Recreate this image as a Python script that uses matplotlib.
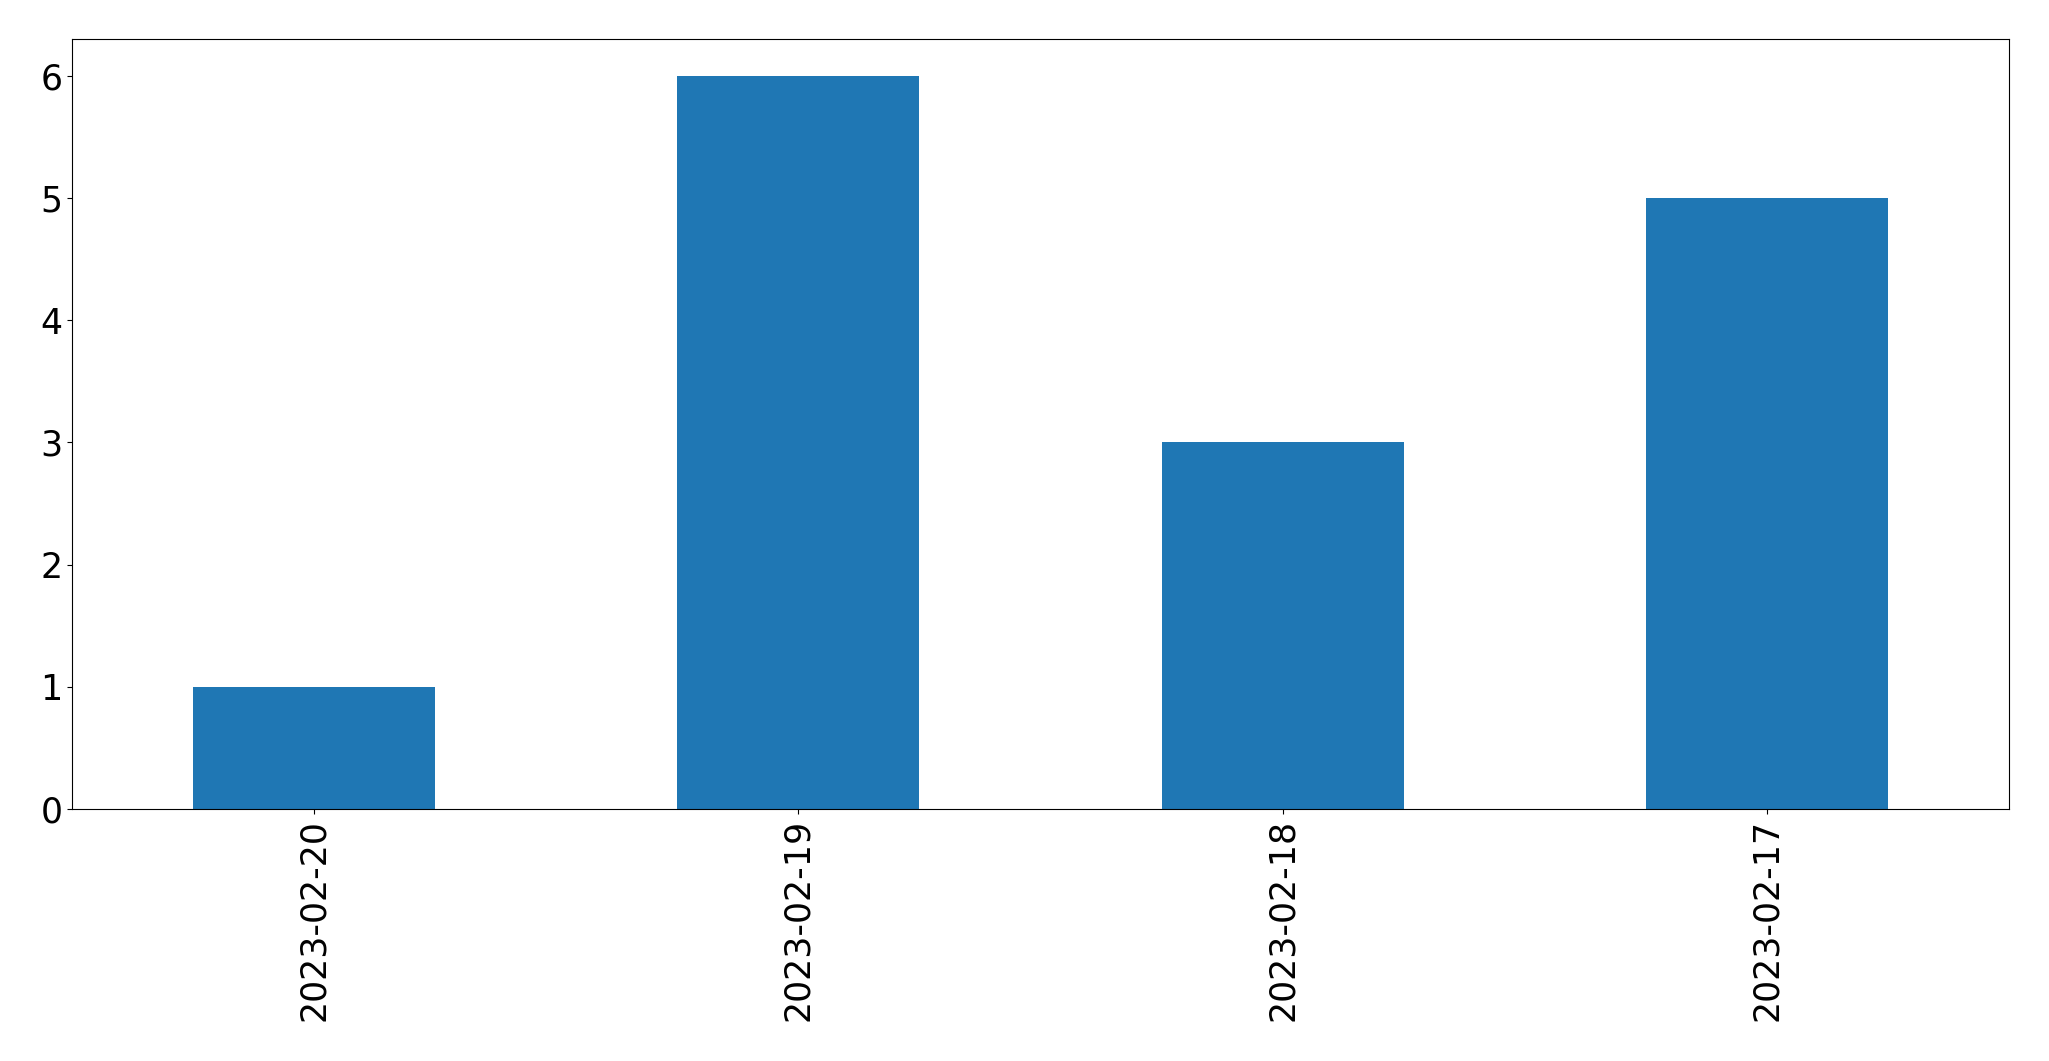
import matplotlib
matplotlib.use("Agg")
import matplotlib.pyplot as plt
import numpy as np

dates = ["2023-02-20", "2023-02-19", "2023-02-18", "2023-02-17"]
counts = [1, 6, 3, 5]

fig = plt.figure(figsize=(20.49, 10.61), dpi=100)
ax = fig.add_axes([72/2049, 1 - 809/1061, (2009 - 72)/2049, (809 - 39)/1061])
x = np.arange(len(dates))
ax.bar(x, counts, width=0.5, color="#1f77b4")
ax.set_xlim(-0.5, len(dates) - 0.5)
ax.set_xticks(x)
ax.set_xticklabels(dates, rotation=90)
ax.tick_params(labelsize=25)
fig.savefig("out.png", dpi=100)
